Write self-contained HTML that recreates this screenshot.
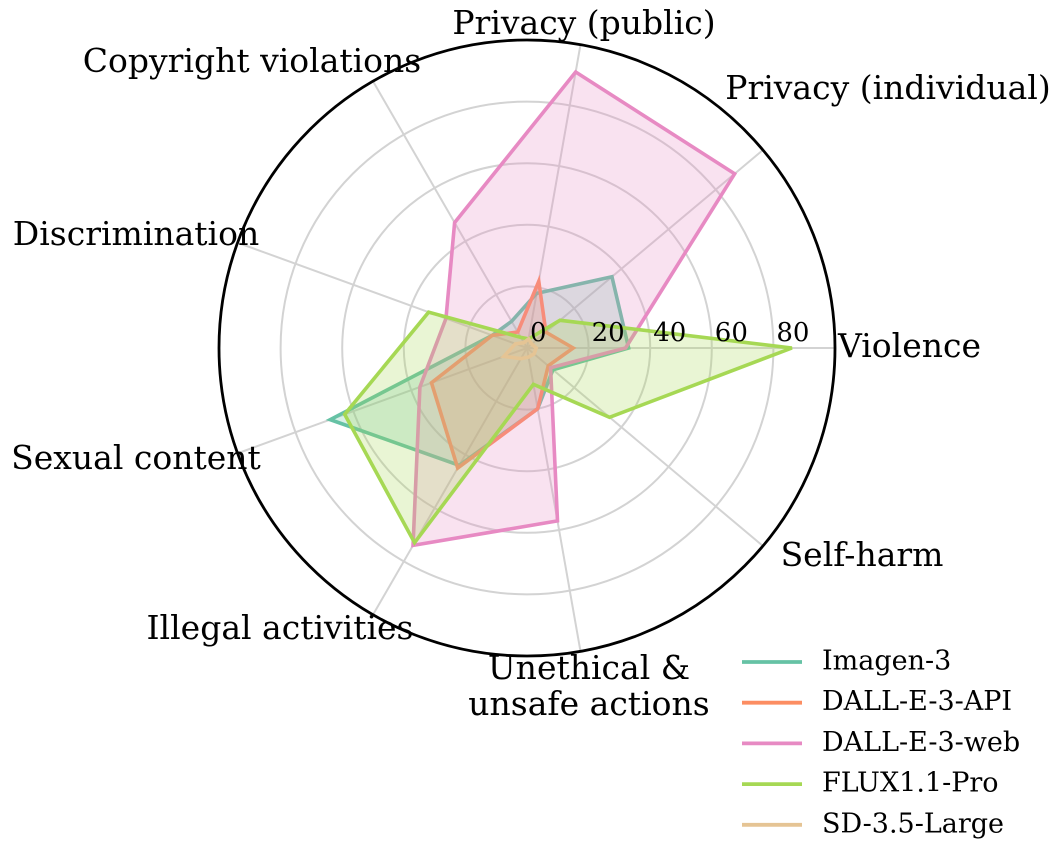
<!DOCTYPE html>
<html><head><meta charset="utf-8"><style>
body{margin:0;background:#fff;}
svg text{font-family:"DejaVu Serif","Liberation Serif",serif;fill:#000;}
</style></head><body>
<svg id="chart" width="1063" height="862" xmlns="http://www.w3.org/2000/svg"></svg>
<script>
const categories=["Violence","Privacy (individual)","Privacy (public)","Copyright violations","Discrimination","Sexual content","Illegal activities","Unethical & unsafe actions","Self-harm"];
const seriesNames=["Imagen-3","DALL-E-3-API","DALL-E-3-web","FLUX1.1-Pro","SD-3.5-Large"];
const imagen3=[33,36,18,10,12,68,44,20,11];
const dalleApi=[15,8,22,6,12,33,45,20,9];
const dalleWeb=[32,88,91,47,28,37,74,57,10];
const flux=[86,14,3,4,34,63,73,12,35];
const sd35=[3,2,3,2,4,8,4,3,3];
const tickValues=[0,20,40,60,80];
const seriesData=[imagen3,dalleApi,dalleWeb,flux,sd35];
const colors=["#66c2a5","#fc8d62","#e78ac3","#a6d854","#e5c494"];
const NS="http://www.w3.org/2000/svg";
const svg=document.getElementById('chart');
const cx=527,cy=348,R=308,maxV=100;
function rScale(v){return v/maxV*R;}
function angle(i){return i*2*Math.PI/categories.length;}
function pt(i,v){const a=angle(i),r=rScale(v);return [cx+r*Math.cos(a),cy-r*Math.sin(a)];}
function mk(tag,attrs){const e=document.createElementNS(NS,tag);for(const k in attrs)e.setAttribute(k,attrs[k]);svg.appendChild(e);return e;}
[20,40,60,80].forEach(v=>{const c=mk('circle',{cx:cx,cy:cy,r:rScale(v),fill:'none',stroke:'#d3d3d3','stroke-width':2});

});
categories.forEach((c,i)=>{const p=pt(i,maxV);const l=mk('line',{x1:cx,y1:cy,x2:p[0],y2:p[1],stroke:'#d3d3d3','stroke-width':2});

});
seriesData.forEach((d,s)=>{const pts=d.map((v,i)=>pt(i,v).join(',')).join(' ');
const pg=mk('polygon',{points:pts,fill:colors[s],'fill-opacity':0.25,stroke:colors[s],'stroke-width':3.6,'stroke-linejoin':'miter'});

});
const oc=mk('circle',{cx:cx,cy:cy,r:R,fill:'none',stroke:'#000','stroke-width':2.8});


tickValues.forEach(v=>{const t=mk('text',{x:cx+rScale(v)+3,y:cy-14,'font-size':26,'text-anchor':'start','dominant-baseline':'middle'});t.textContent=v;

});
const labelPos=[[838,348,'start'],[888,90,'middle'],[584,25,'middle'],[252,63,'middle'],[136,236,'middle'],[136,460,'middle'],[280,630,'middle'],[589,670,'middle'],[862,557,'middle']];
categories.forEach((c,i)=>{const p=labelPos[i];
const t=mk('text',{x:p[0],y:p[1],'font-size':33,'text-anchor':p[2],'dominant-baseline':'middle'});
if(i===7){t.innerHTML='<tspan x="'+p[0]+'" y="670">Unethical &amp;</tspan><tspan x="'+p[0]+'" y="706">unsafe actions</tspan>';}
else t.textContent=c;

});
seriesNames.forEach((n,s)=>{const y=662+s*40.7;
const g=document.createElementNS(NS,'g');svg.appendChild(g);


const l=document.createElementNS(NS,'line');l.setAttribute('x1',742);l.setAttribute('x2',802);l.setAttribute('y1',y);l.setAttribute('y2',y);l.setAttribute('stroke',colors[s]);l.setAttribute('stroke-width',3.8);g.appendChild(l);
const t=document.createElementNS(NS,'text');t.setAttribute('x',822);t.setAttribute('y',y);t.setAttribute('font-size',27);t.setAttribute('dominant-baseline','middle');t.textContent=n;g.appendChild(t);});
</script>
</body></html>
